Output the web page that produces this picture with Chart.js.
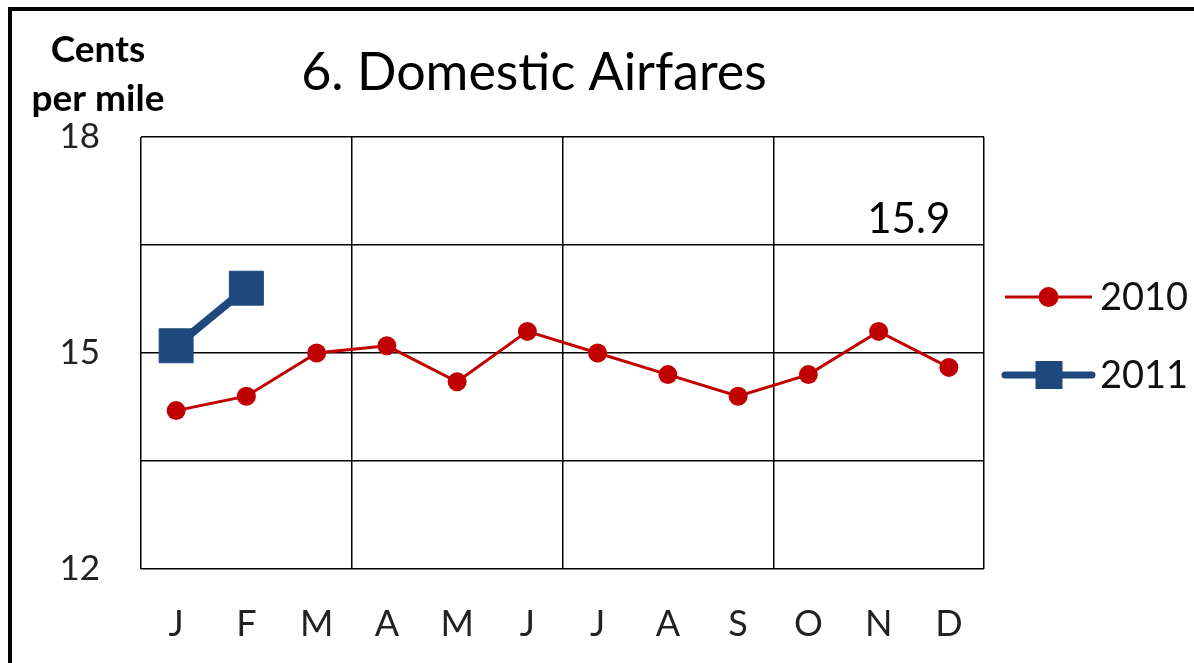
<!DOCTYPE html>
<html>
<head>
<meta charset="utf-8">
<style>
  html, body { margin: 0; padding: 0; background: #fff; }
  #wrap { position: relative; width: 1194px; height: 663px; }
</style>
<script src="https://cdn.jsdelivr.net/npm/chart.js@4/dist/chart.umd.min.js"></script>
</head>
<body>
<div id="wrap"><canvas id="myChart" width="1194" height="663"></canvas></div>
<script>
"use strict";
var months = ["J", "F", "M", "A", "M", "J", "J", "A", "S", "O", "N", "D"];
var fares2010 = [14.2, 14.4, 15.0, 15.1, 14.6, 15.3, 15.0, 14.7, 14.4, 14.7, 15.3, 14.8];
var fares2011 = [15.1, 15.9];
var yTickLabels = [12, 15, 18];
var latestLabel = "15.9";

var red = "#C00000";
var blue = "#1F497D";
var fontFamily = "Lato, 'Open Sans', sans-serif";

// frame, titles, legend, value label
var decorations = {
    id: "decorations",
    afterDraw: function (chart) {
        var ctx = chart.ctx;
        var x = chart.scales.x;
        var y = chart.scales.y;
        ctx.save();

        ctx.fillStyle = "#000";
        ctx.fillRect(8, 7, 1186, 4);
        ctx.fillRect(8, 7, 4, 656);

        ctx.fillStyle = "#000";
        ctx.textAlign = "center";
        ctx.textBaseline = "alphabetic";
        ctx.font = "52px " + fontFamily;
        ctx.fillText("6. Domestic Airfares", 534, 90);

        ctx.font = "bold 37px " + fontFamily;
        ctx.fillText("Cents", 98, 62);
        ctx.fillText("per mile", 98, 111);

        ctx.font = "42px " + fontFamily;
        ctx.fillText(latestLabel, (x.getPixelForValue(10) + x.getPixelForValue(11)) / 2 - 5,
            y.getPixelForValue(16.5) - 12);

        // legend
        var lx = 1005, lw = 87;
        ctx.strokeStyle = red;
        ctx.lineWidth = 3;
        ctx.beginPath();
        ctx.moveTo(lx, 297);
        ctx.lineTo(lx + lw, 297);
        ctx.stroke();
        ctx.fillStyle = red;
        ctx.beginPath();
        ctx.arc(lx + lw / 2, 297, 10, 0, Math.PI * 2);
        ctx.fill();

        ctx.strokeStyle = blue;
        ctx.lineWidth = 7;
        ctx.lineCap = "round";
        ctx.beginPath();
        ctx.moveTo(lx, 375);
        ctx.lineTo(lx + lw, 375);
        ctx.stroke();
        ctx.fillStyle = blue;
        ctx.fillRect(lx + lw / 2 - 13, 375 - 14, 27, 28);

        ctx.fillStyle = "#111";
        ctx.textAlign = "left";
        ctx.font = "38px " + fontFamily;
        ctx.fillText("2010", 1100, 310);
        ctx.fillText("2011", 1100, 388);
        ctx.restore();
    }
};

var ctx = document.getElementById("myChart").getContext("2d");
var chart = new Chart(ctx, {
    type: "line",
    data: {
        labels: months,
        datasets: [{
            label: "2011",
            data: fares2011,
            borderColor: blue,
            backgroundColor: blue,
            borderWidth: 8,
            pointStyle: "rect",
            pointRadius: 24,
            pointBorderWidth: 1,
            tension: 0
        }, {
            label: "2010",
            data: fares2010,
            borderColor: red,
            backgroundColor: red,
            borderWidth: 3,
            pointStyle: "circle",
            pointRadius: 9.5,
            pointBorderWidth: 0,
            tension: 0
        }]
    },
    options: {
        responsive: false,
        animation: false,
        layout: { padding: { left: 0, top: 137, right: 210, bottom: 0 } },
        plugins: {
            legend: { display: false },
            tooltip: { enabled: false }
        },
        scales: {
            x: {
                offset: true,
                grid: {
                    offset: true,
                    drawTicks: false,
                    lineWidth: 1.5,
                    color: function (c) {
                        if (c.type !== "tick") return "#000";
                        return c.index % 3 === 0 ? "#000" : "rgba(0,0,0,0)";
                    }
                },
                border: { display: false },
                ticks: {
                    color: "#222",
                    padding: 34,
                    font: { size: 36, family: fontFamily }
                },
                afterFit: function (scale) { scale.height = 94; }
            },
            y: {
                min: 12,
                max: 18,
                grid: { drawTicks: false, lineWidth: 1.5, color: "#000" },
                border: { display: false },
                ticks: {
                    stepSize: 1.5,
                    padding: 41,
                    color: "#222",
                    font: { size: 35, family: fontFamily },
                    callback: function (v) {
                        return yTickLabels.indexOf(v) >= 0 ? String(v) : "";
                    }
                },
                afterFit: function (scale) { scale.width = 141; }
            }
        }
    },
    plugins: [decorations]
});
</script>
</body>
</html>
